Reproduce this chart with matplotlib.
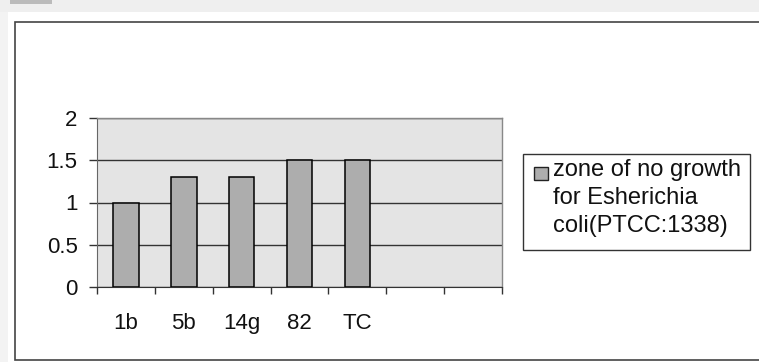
import matplotlib
matplotlib.use("Agg")
import matplotlib.pyplot as plt
from matplotlib.patches import Rectangle
import numpy as np

categories = ["1b", "5b", "14g", "82", "TC", "", ""]
values = [1.0, 1.3, 1.3, 1.5, 1.5, np.nan, np.nan]
series_label = "zone of no growth\nfor Esherichia\ncoli(PTCC:1338)"
yticks = [0, 0.5, 1, 1.5, 2]
ytick_labels = ["0", "0.5", "1", "1.5", "2"]

plt.rcParams['font.family'] = ['Liberation Sans', 'DejaVu Sans']

W, H = 759, 362
fig = plt.figure(figsize=(W / 100, H / 100), dpi=100)
fig.patch.set_facecolor("white")

def fx(px):
    return px / W

def fy(py):
    return 1 - py / H

# scanned-page shadow, frame and tab
fig.patches.append(Rectangle((0, fy(12)), 1, 12 / H, transform=fig.transFigure,
                             facecolor="#efefef", edgecolor="none", zorder=0))
fig.patches.append(Rectangle((0, 0), fx(8), fy(12), transform=fig.transFigure,
                             facecolor="#f3f3f3", edgecolor="none", zorder=0))
fig.patches.append(Rectangle((fx(10), fy(4)), fx(42), 4 / H, transform=fig.transFigure,
                             facecolor="#bbbbbb", edgecolor="none", zorder=0))
fig.patches.append(Rectangle((fx(15), fy(360)), 1.0, (360 - 22) / H, transform=fig.transFigure,
                             facecolor="white", edgecolor="#444444", linewidth=1.2, zorder=0))

ax = fig.add_axes([fx(97), fy(287), fx(405), 169 / H])
ax.set_zorder(2)
ax.set_facecolor("#e4e4e4")
x = np.arange(len(categories))
ax.bar(x, values, width=0.44, color="#adadad", edgecolor="black", linewidth=1.1,
       label=series_label, zorder=3)

ax.set_xlim(-0.5, len(categories) - 0.5)
ax.set_ylim(0, 2)
ax.set_yticks(yticks)
ax.set_yticklabels(ytick_labels, fontsize=16, color="#111111")
ax.yaxis.grid(True, color="#333333", linewidth=1.0, zorder=1)
ax.set_axisbelow(True)

ax.set_xticks(x)
ax.set_xticklabels(categories, fontsize=16, color="#111111")
ax.set_xticks(np.arange(-0.5, len(categories)), minor=True)
ax.tick_params(axis="x", which="major", length=0, pad=19)
ax.tick_params(axis="x", which="minor", length=5, width=1, color="#333333")
ax.tick_params(axis="y", length=6, width=1, color="#333333", pad=8)

for side in ["top", "right"]:
    ax.spines[side].set_color("#888888")
    ax.spines[side].set_linewidth(1.0)
    ax.spines[side].set_linestyle((0, (4, 1)))
ax.spines["left"].set_color("#666666")
ax.spines["bottom"].set_color("#333333")

# legend box (drawn manually so the key sits beside the first line)
fig.patches.append(Rectangle((fx(523), fy(250)), fx(750 - 523), (250 - 154) / H,
                             transform=fig.transFigure, facecolor="white",
                             edgecolor="#333333", linewidth=1.0, zorder=3))
fig.patches.append(Rectangle((fx(534), fy(180)), fx(14), 13 / H, transform=fig.transFigure,
                             facecolor="#adadad", edgecolor="#222222", linewidth=1.0, zorder=4))
fig.text(fx(553), fy(159), series_label, fontsize=17, va="top", ha="left",
         linespacing=1.36, color="#111111", zorder=5)

fig.savefig("out.png", dpi=100)
